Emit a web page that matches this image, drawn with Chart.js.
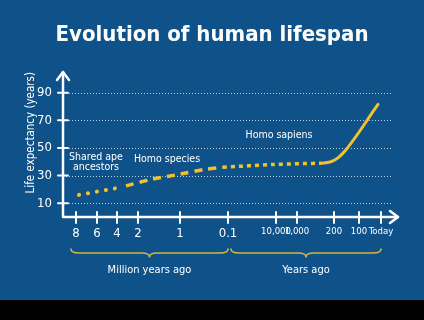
<!DOCTYPE html>
<html>
<head>
<meta charset="utf-8">
<script src="https://cdn.jsdelivr.net/npm/chart.js@4.4.1/dist/chart.umd.min.js"></script>
<style>
  html, body { margin: 0; padding: 0; background: #0f5189; }
  #wrap { width: 424px; height: 300px; position: relative; }
  #bar { width: 424px; height: 20px; background: #000; }
</style>
</head>
<body>
<div id="wrap"><canvas id="chart" width="424" height="300"></canvas></div>
<div id="bar"></div>
<script>
// x positions of the ticks on the (non-uniform) time axis, and their labels
const tickPos = [13, 34, 54, 75, 117, 165, 213, 234, 271, 296, 318];
const tickLabels = ['8', '6', '4', '2', '1', '0.1', '10,000', '1,000', '200', '100', 'Today'];
const yTicks = [10, 30, 50, 70, 90];

// life expectancy curve, split into its stages
const apeX = [16, 35, 54];
const apeY = [16, 18.5, 21];
const speciesX = [63, 87, 117, 142, 160];
const speciesY = [22.5, 27, 31, 34.5, 36];
const sapiensX = [160, 210, 258];
const sapiensY = [36, 38, 39];
const modernX = [258, 267, 275, 283, 315];
const modernY = [39, 39.8, 42.8, 48.7, 81.5];

// text labels on the plot
const notes = [
  { text: ['Shared ape', 'ancestors'], x: 33, y: 43.5 },
  { text: ['Homo species'], x: 104, y: 42 },
  { text: ['Homo sapiens'], x: 216, y: 59 }
];
const braces = [
  { label: 'Million years ago', from: 0, to: 5 },
  { label: 'Years ago', from: 5, to: 10 }
];

const FONT = "'Liberation Sans Narrow', 'DejaVu Sans Condensed', Roboto, sans-serif";
const YELLOW = '#f2c12e';
const WHITE = '#ffffff';
const GRID_END = 328;
const AXIS_END = 335;

const pts = (xs, ys) => xs.map((x, i) => ({ x: x, y: ys[i] }));

const decor = {
  id: 'decor',
  beforeDatasetsDraw(chart) {
    // dotted horizontal grid lines
    const ctx = chart.ctx;
    const xs = chart.scales.x, ys = chart.scales.y;
    ctx.save();
    ctx.strokeStyle = 'rgba(255,255,255,0.7)';
    ctx.lineWidth = 1;
    ctx.setLineDash([1, 2]);
    ctx.beginPath();
    yTicks.forEach(v => {
      const p = Math.round(ys.getPixelForValue(v)) + 0.5;
      ctx.moveTo(xs.left, p);
      ctx.lineTo(xs.getPixelForValue(GRID_END), p);
    });
    ctx.stroke();
    ctx.restore();
  },
  afterDraw(chart) {
    const ctx = chart.ctx;
    const xs = chart.scales.x, ys = chart.scales.y;
    const x0 = xs.left, y0 = ys.bottom, top = ys.top;
    const xEnd = xs.getPixelForValue(AXIS_END);
    ctx.save();
    ctx.strokeStyle = WHITE;
    ctx.lineWidth = 2.5;
    ctx.lineCap = 'round';
    ctx.lineJoin = 'round';
    // axes
    ctx.beginPath();
    ctx.moveTo(x0, top);
    ctx.lineTo(x0, y0);
    ctx.lineTo(xEnd, y0);
    ctx.stroke();
    // arrow heads
    ctx.beginPath();
    ctx.moveTo(x0 - 6, top + 8); ctx.lineTo(x0, top); ctx.lineTo(x0 + 6, top + 8);
    ctx.moveTo(xEnd - 8, y0 - 6); ctx.lineTo(xEnd, y0); ctx.lineTo(xEnd - 8, y0 + 6);
    ctx.stroke();
    // tick marks crossing the axes
    ctx.lineWidth = 2;
    ctx.beginPath();
    yTicks.forEach(v => {
      const p = ys.getPixelForValue(v);
      ctx.moveTo(x0 - 5, p); ctx.lineTo(x0 + 5, p);
    });
    tickPos.forEach(v => {
      const p = xs.getPixelForValue(v);
      ctx.moveTo(p, y0 - 5); ctx.lineTo(p, y0 + 6);
    });
    ctx.stroke();

    // notes
    ctx.fillStyle = WHITE;
    ctx.font = '10.5px ' + FONT;
    ctx.textAlign = 'center';
    ctx.textBaseline = 'middle';
    notes.forEach(n => {
      const px = xs.getPixelForValue(n.x), py = ys.getPixelForValue(n.y);
      n.text.forEach((t, i) => ctx.fillText(t, px, py + i * 10));
    });

    // braces below the axis
    const by = y0 + 36;
    braces.forEach((b, k) => {
      const a = xs.getPixelForValue(tickPos[b.from]) + (k === 0 ? -5 : 3);
      const e = xs.getPixelForValue(tickPos[b.to]);
      const m = (a + e) / 2;
      ctx.strokeStyle = '#d8b43c';
      ctx.lineWidth = 1.6;
      ctx.beginPath();
      ctx.moveTo(a, by - 4);
      ctx.quadraticCurveTo(a, by, a + 8, by);
      ctx.lineTo(m - 8, by);
      ctx.quadraticCurveTo(m, by, m, by + 4);
      ctx.quadraticCurveTo(m, by, m + 8, by);
      ctx.lineTo(e - 8, by);
      ctx.quadraticCurveTo(e, by, e, by - 4);
      ctx.stroke();
      ctx.fillStyle = WHITE;
      ctx.font = '11px ' + FONT;
      ctx.fillText(b.label, m, by + 17);
    });
    ctx.restore();
  }
};

new Chart(document.getElementById('chart'), {
  type: 'line',
  data: {
    datasets: [
      {
        label: 'Shared ape ancestors',
        data: pts(apeX, apeY),
        borderColor: YELLOW,
        borderWidth: 4,
        borderDash: [0.1, 9],
        borderCapStyle: 'round',
        pointRadius: 0
      },
      {
        label: 'Homo species',
        data: pts(speciesX, speciesY),
        borderColor: YELLOW,
        borderWidth: 3.5,
        borderDash: [8, 6],
        tension: 0.3,
        pointRadius: 0
      },
      {
        label: 'Homo sapiens',
        data: pts(sapiensX, sapiensY),
        borderColor: YELLOW,
        borderWidth: 3.5,
        borderDash: [4, 4],
        tension: 0.3,
        pointRadius: 0
      },
      {
        label: 'Modern',
        data: pts(modernX, modernY),
        borderColor: YELLOW,
        borderWidth: 3,
        cubicInterpolationMode: 'monotone',
        borderCapStyle: 'round',
        pointRadius: 0
      }
    ]
  },
  options: {
    responsive: false,
    animation: false,
    layout: { padding: 0 },
    plugins: {
      legend: { display: false },
      tooltip: { enabled: false },
      title: {
        display: true,
        text: 'Evolution of human lifespan',
        color: WHITE,
        font: { family: FONT, size: 22, weight: 'bold' },
        padding: { top: 22, bottom: 23.6 }
      }
    },
    scales: {
      x: {
        type: 'linear',
        min: 0,
        max: 361,
        afterBuildTicks: s => { s.ticks = tickPos.map(v => ({ value: v })); },
        afterFit: s => { s.height = 83; },
        grid: { display: false, drawTicks: false },
        border: { display: false },
        ticks: {
          autoSkip: false,
          maxRotation: 0,
          padding: 9,
          color: WHITE,
          font: c => ({ family: FONT, size: c.index < 6 ? 13 : 9.5 }),
          callback: (v, i) => tickLabels[i]
        }
      },
      y: {
        min: 0,
        max: 105,
        afterBuildTicks: s => { s.ticks = yTicks.map(v => ({ value: v })); },
        afterFit: s => { s.width = 63; },
        grid: { display: false, drawTicks: false },
        border: { display: false },
        ticks: {
          padding: 11,
          color: WHITE,
          font: { family: FONT, size: 13 }
        },
        title: {
          display: true,
          align: 'end',
          text: 'Life expectancy (years)',
          color: WHITE,
          font: { family: FONT, size: 11.5 },
          padding: { top: 24, bottom: 0 }
        }
      }
    }
  },
  plugins: [decor]
});
</script>
</body>
</html>
